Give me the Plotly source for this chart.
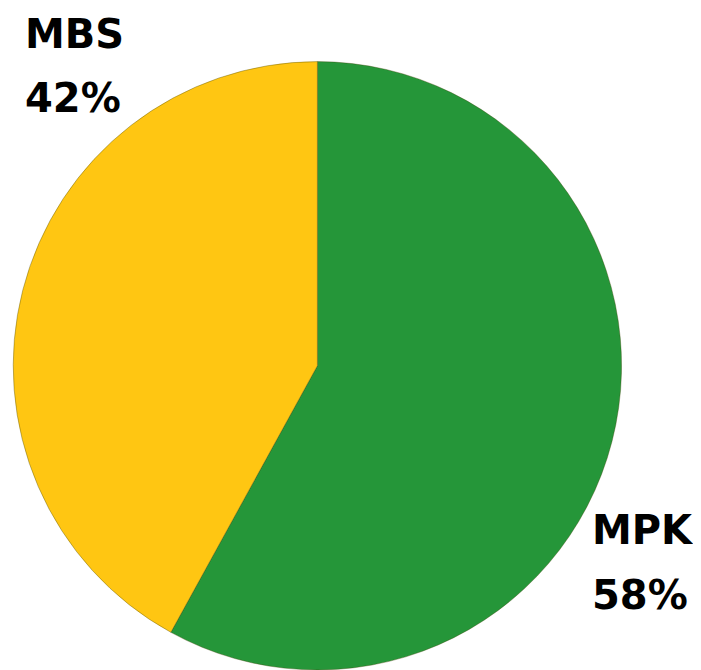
import plotly.graph_objects as go

# slice data
labels = ["MPK", "MBS"]
values = [58, 42]
colors = ["#259639", "#FFC612"]

W, H = 701, 670

fig = go.Figure()
fig.add_trace(go.Pie(
    labels=labels,
    values=values,
    sort=False,
    direction="clockwise",
    rotation=0,
    textinfo="none",
    hoverinfo="label+percent",
    marker=dict(colors=colors, line=dict(color="rgba(60,60,0,0.35)", width=1)),
    domain=dict(x=[0.0071, 0.8756], y=[0.012, 0.92]),
    showlegend=False,
))

# label positions (pixels, top-left origin): name line centre, percent line centre
label_pos = {"MBS": (15, 26, 90), "MPK": (582, 522, 587)}

font = dict(family="DejaVu Sans", size=40, color="#000000")
for name, val in zip(labels, values):
    px_x, y1, y2 = label_pos[name]
    pct = round(100 * val / sum(values))
    for txt, py in ((name, y1), (f"{pct}%", y2)):
        fig.add_annotation(
            text=f"<b>{txt}</b>",
            x=px_x / W, y=1 - py / H,
            xref="paper", yref="paper",
            xanchor="left", yanchor="middle",
            showarrow=False, font=font,
        )

fig.update_layout(
    width=W, height=H,
    margin=dict(l=0, r=0, t=0, b=0),
    paper_bgcolor="white",
    plot_bgcolor="white",
)

fig.write_html("out.html")
